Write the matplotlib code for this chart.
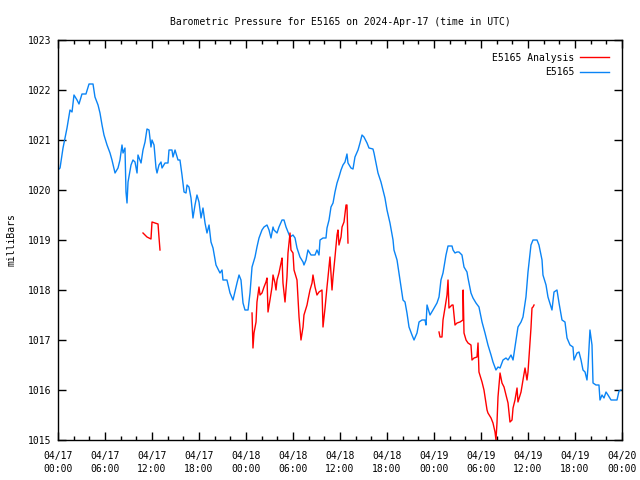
import numpy as np
import matplotlib
matplotlib.use("Agg")
import matplotlib.pyplot as plt
from matplotlib.ticker import MultipleLocator

# ---- data: hours since 2024-04-17 00:00 UTC, pressure in mbar ----
obs_hours = [0.0, 0.26, 0.64, 1.15, 1.53, 1.79, 2.04, 2.43, 2.68, 3.06, 3.57, 3.96, 4.47,
             4.72, 5.11, 5.36, 5.62, 5.87, 6.26, 6.64, 6.89, 7.28, 7.66, 7.91, 8.17, 8.30,
             8.55, 8.68, 8.81, 8.94, 9.32, 9.57, 9.83, 10.09, 10.21, 10.60, 10.85, 11.11,
             11.36, 11.62, 11.87, 12.00, 12.26, 12.51, 12.64, 12.89, 13.15, 13.28, 13.66,
             14.04, 14.17, 14.55, 14.68, 14.94, 15.32, 15.57, 15.83, 16.09, 16.34, 16.47,
             16.72, 16.98, 17.23, 17.49, 17.74, 18.00, 18.26, 18.51, 18.77, 19.02, 19.28,
             19.53, 19.79, 20.17, 20.68, 20.94, 21.06, 21.57, 21.96, 22.34, 22.85, 23.11,
             23.36, 23.62, 23.87, 24.26, 24.51, 24.77, 25.15, 25.40, 25.66, 26.04, 26.30,
             26.68, 26.94, 27.19, 27.45, 27.57, 27.96, 28.21, 28.60, 28.85, 29.11, 29.36,
             29.62, 30.00, 30.26, 30.51, 30.89, 31.28, 31.40, 31.66, 31.91, 32.30, 32.81,
             33.06, 33.32, 33.45, 33.83, 34.21, 34.34, 34.60, 34.85, 35.11, 35.36, 35.62,
             35.87, 36.13, 36.38, 36.64, 36.89, 37.02, 37.40, 37.66, 37.91, 38.30, 38.55,
             38.81, 39.06, 39.45, 39.70, 40.21, 40.34, 40.60, 40.85, 41.23, 41.49, 41.74,
             42.00, 42.38, 42.77, 42.89, 43.28, 43.53, 43.79, 44.04, 44.30, 44.55, 44.81,
             45.19, 45.45, 45.83, 46.09, 46.47, 46.85, 46.98, 47.11, 47.49, 47.87, 48.38,
             48.64, 48.89, 49.15, 49.53, 49.79, 50.30, 50.43, 50.68, 50.94, 51.19, 51.57,
             51.83, 52.21, 52.34, 52.72, 52.98, 53.36, 53.74, 54.13, 54.51, 54.89, 55.28,
             55.53, 55.91, 56.17, 56.43, 56.81, 57.19, 57.45, 57.83, 58.09, 58.47, 58.72,
             59.11, 59.36, 59.74, 60.00, 60.38, 60.64, 61.15, 61.40, 61.79, 61.91, 62.30,
             62.55, 63.06, 63.32, 63.70, 63.96, 64.34, 64.72, 64.98, 65.36, 65.74, 65.87,
             66.26, 66.51, 66.77, 67.02, 67.28, 67.53, 67.66, 67.91, 68.17, 68.30, 68.68,
             69.06, 69.19, 69.45, 69.70, 69.96, 70.21, 70.60, 71.36, 71.62, 71.87]
obs_mbar = [1020.40, 1020.44, 1020.84, 1021.24, 1021.60, 1021.56, 1021.90, 1021.80, 1021.72,
            1021.92, 1021.92, 1022.12, 1022.12, 1021.86, 1021.70, 1021.54, 1021.30, 1021.10,
            1020.90, 1020.74, 1020.60, 1020.34, 1020.44, 1020.60, 1020.90, 1020.74, 1020.84,
            1019.96, 1019.74, 1020.16, 1020.50, 1020.60, 1020.56, 1020.34, 1020.70, 1020.54,
            1020.80, 1020.96, 1021.22, 1021.20, 1020.86, 1021.00, 1020.90, 1020.44, 1020.34,
            1020.50, 1020.56, 1020.44, 1020.54, 1020.54, 1020.80, 1020.80, 1020.66, 1020.80,
            1020.60, 1020.60, 1020.30, 1019.96, 1019.94, 1020.10, 1020.06, 1019.84, 1019.44,
            1019.70, 1019.90, 1019.76, 1019.44, 1019.64, 1019.34, 1019.14, 1019.30, 1018.96,
            1018.84, 1018.50, 1018.34, 1018.40, 1018.20, 1018.20, 1017.94, 1017.80, 1018.14,
            1018.30, 1018.20, 1017.74, 1017.60, 1017.60, 1017.94, 1018.46, 1018.66, 1018.86,
            1019.04, 1019.20, 1019.26, 1019.30, 1019.20, 1019.04, 1019.26, 1019.20, 1019.14,
            1019.26, 1019.40, 1019.40, 1019.26, 1019.16, 1019.06, 1019.10, 1019.04, 1018.84,
            1018.66, 1018.56, 1018.50, 1018.60, 1018.80, 1018.70, 1018.70, 1018.80, 1018.70,
            1019.00, 1019.04, 1019.04, 1019.24, 1019.40, 1019.66, 1019.74, 1019.96, 1020.14,
            1020.26, 1020.40, 1020.50, 1020.56, 1020.72, 1020.54, 1020.44, 1020.42, 1020.66,
            1020.80, 1020.94, 1021.10, 1021.06, 1020.94, 1020.84, 1020.82, 1020.74, 1020.54,
            1020.34, 1020.16, 1020.00, 1019.84, 1019.60, 1019.34, 1019.00, 1018.80, 1018.60,
            1018.34, 1018.06, 1017.80, 1017.76, 1017.54, 1017.26, 1017.10, 1017.00, 1017.14,
            1017.36, 1017.40, 1017.40, 1017.30, 1017.70, 1017.50, 1017.60, 1017.74, 1017.86,
            1018.20, 1018.34, 1018.70, 1018.88, 1018.88, 1018.80, 1018.74, 1018.76, 1018.76,
            1018.70, 1018.46, 1018.36, 1018.24, 1017.94, 1017.84, 1017.74, 1017.66, 1017.36,
            1017.14, 1016.90, 1016.70, 1016.56, 1016.40, 1016.46, 1016.44, 1016.60, 1016.64,
            1016.60, 1016.70, 1016.60, 1017.00, 1017.26, 1017.36, 1017.46, 1017.86, 1018.36,
            1018.90, 1019.00, 1019.00, 1018.90, 1018.60, 1018.30, 1018.10, 1017.86, 1017.60,
            1017.96, 1018.00, 1017.74, 1017.40, 1017.36, 1017.04, 1016.90, 1016.86, 1016.60,
            1016.74, 1016.76, 1016.60, 1016.40, 1016.36, 1016.20, 1016.46, 1017.20, 1016.90,
            1016.14, 1016.10, 1016.10, 1015.80, 1015.90, 1015.84, 1015.96, 1015.90, 1015.80,
            1015.80, 1015.98, 1016.00]

# analysis series, NaN marks gaps between segments
ana_hours = [10.85, 11.36, 11.87, 12.00, 12.38, 12.77, 12.89, 13.02, 18.0,
             24.77, 24.89, 25.02, 25.28, 25.40, 25.66, 25.79, 26.04, 26.30, 26.55, 26.68,
             26.81, 27.06, 27.32, 27.45, 27.70, 27.83, 27.96, 28.21, 28.47, 28.60, 28.72,
             28.98, 29.23, 29.36, 29.62, 29.74, 30.00, 30.13, 30.51, 30.77, 31.02, 31.28,
             31.40, 31.79, 31.91, 32.17, 32.43, 32.55, 32.81, 33.06, 33.32, 33.70, 33.83,
             34.09, 34.34, 34.47, 34.72, 34.98, 35.11, 35.36, 35.62, 35.74, 35.87, 36.13,
             36.26, 36.51, 36.77, 36.89, 37.02, 42.0,
             48.64, 48.77, 49.02, 49.15, 49.40, 49.66, 49.79, 49.91, 50.30, 50.43, 50.68,
             50.94, 51.32, 51.70, 51.72, 51.83, 52.09, 52.34, 52.72, 52.85, 53.11, 53.49,
             53.62, 53.74, 54.13, 54.38, 54.77, 54.89, 55.28, 55.53, 55.79, 55.91, 56.04,
             56.17, 56.43, 56.68, 56.94, 57.19, 57.45, 57.70, 57.96, 58.09, 58.34, 58.60,
             58.72, 59.11, 59.36, 59.62, 59.87, 60.00, 60.13, 60.38, 60.51, 60.64, 60.77]
ana_mbar = [1019.14, 1019.06, 1019.02, 1019.36, 1019.34, 1019.32, 1019.06, 1018.80, np.nan,
            1017.54, 1016.84, 1017.14, 1017.36, 1017.76, 1018.06, 1017.90, 1017.94, 1018.06,
            1018.16, 1018.24, 1017.56, 1017.80, 1018.06, 1018.30, 1018.14, 1018.00, 1018.20,
            1018.34, 1018.54, 1018.64, 1018.14, 1017.76, 1018.26, 1018.74, 1019.14, 1018.80,
            1018.74, 1018.40, 1018.20, 1017.46, 1017.00, 1017.26, 1017.50, 1017.70, 1017.80,
            1018.00, 1018.14, 1018.30, 1018.06, 1017.90, 1017.96, 1018.00, 1017.26, 1017.64,
            1018.06, 1018.26, 1018.66, 1018.00, 1018.26, 1018.66, 1019.10, 1019.20, 1018.90,
            1019.06, 1019.26, 1019.36, 1019.70, 1019.70, 1018.94, np.nan,
            1017.16, 1017.06, 1017.06, 1017.40, 1017.64, 1017.90, 1018.20, 1017.64, 1017.70,
            1017.70, 1017.30, 1017.34, 1017.36, 1017.40, 1018.00, 1017.14, 1017.00, 1016.94,
            1016.90, 1016.60, 1016.64, 1016.66, 1016.94, 1016.36, 1016.16, 1016.00, 1015.60,
            1015.54, 1015.44, 1015.34, 1015.16, 1015.00, 1015.34, 1015.86, 1016.34, 1016.14,
            1016.06, 1015.90, 1015.74, 1015.36, 1015.40, 1015.64, 1015.80, 1016.04, 1015.76,
            1015.96, 1016.20, 1016.44, 1016.20, 1016.36, 1016.66, 1017.24, 1017.64, 1017.66,
            1017.70]

tick_hours = [0, 6, 12, 18, 24, 30, 36, 42, 48, 54, 60, 66, 72]
tick_labels = ["04/17\n00:00", "04/17\n06:00", "04/17\n12:00", "04/17\n18:00",
               "04/18\n00:00", "04/18\n06:00", "04/18\n12:00", "04/18\n18:00",
               "04/19\n00:00", "04/19\n06:00", "04/19\n12:00", "04/19\n18:00",
               "04/20\n00:00"]

# ---- plot ----
plt.rcParams['font.family'] = 'DejaVu Sans Mono'
plt.rcParams['font.size'] = 7

fig = plt.figure(figsize=(6.4, 4.8), dpi=100)
ax = fig.add_axes([58/640, 40/480, 564/640, 400/480])

l_obs, = ax.plot(obs_hours, obs_mbar, color='#0a84f5', lw=1)
l_ana, = ax.plot(ana_hours, ana_mbar, color='#ff0000', lw=1)

ax.set_xlim(0, 72)
ax.set_ylim(1015, 1023)
ax.set_xticks(tick_hours)
ax.set_xticklabels(tick_labels, linespacing=1.3)
ax.xaxis.set_minor_locator(MultipleLocator(2))
ax.yaxis.set_major_locator(MultipleLocator(1))
ax.yaxis.set_major_formatter(matplotlib.ticker.FormatStrFormatter('%d'))
ax.tick_params(which='both', direction='in', top=True, right=True, width=1, colors='black')
ax.tick_params(which='major', length=6)
ax.tick_params(axis='x', which='major', pad=8)
ax.tick_params(axis='y', which='major', pad=5)
ax.tick_params(which='minor', length=3)
for s in ax.spines.values():
    s.set_linewidth(1)

ax.set_title('Barometric Pressure for E5165 on 2024-Apr-17 (time in UTC)',
             fontsize=7, pad=11)
ax.set_ylabel('milliBars', labelpad=8)

ax.legend([l_ana, l_obs], ['E5165 Analysis', 'E5165'], loc='upper right',
          frameon=False, markerfirst=False, handlelength=3, borderaxespad=0.9,
          labelspacing=0.45, handletextpad=0.6, fontsize=7)

fig.savefig('out.png', dpi=100)
